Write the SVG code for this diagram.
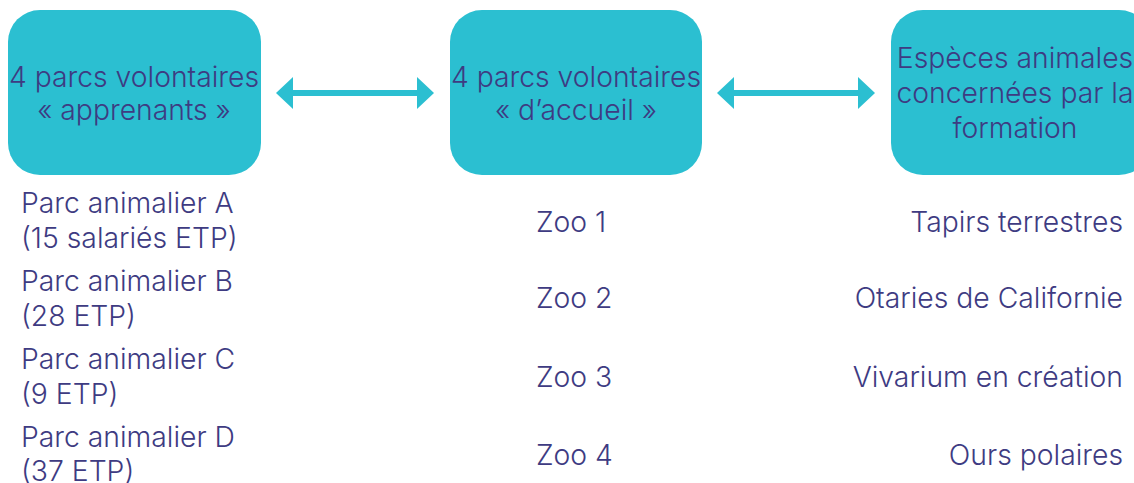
<svg xmlns="http://www.w3.org/2000/svg" width="1134" height="483" viewBox="0 0 1134 483">
  <style>
    .box { fill: #2bbfd1; }
    .t { font-family: Inter, "Liberation Sans", Arial, sans-serif; font-weight: 300; font-size: 28.3px; fill: #3e3b82; }
    .mid { text-anchor: middle; }
    .end { text-anchor: end; }
    .shaft { stroke: #2bbfd1; stroke-width: 6; fill: none; }
    .head { fill: #2bbfd1; }
  </style>
  <rect width="1134" height="483" fill="#ffffff"/>

  <!-- header blocks -->
  <g id="node-apprenants">
    <rect class="box" x="8" y="10" width="253" height="165" rx="32" ry="32"/>
    <text class="t mid" x="134" y="87">4 parcs volontaires</text>
    <text class="t mid" x="134" y="120">« apprenants »</text>
  </g>
  <g id="node-accueil">
    <rect class="box" x="450" y="10" width="252" height="165" rx="32" ry="32"/>
    <text class="t mid" x="576" y="87">4 parcs volontaires</text>
    <text class="t mid" x="576" y="120">« d’accueil »</text>
  </g>
  <g id="node-especes">
    <rect class="box" x="891" y="10" width="260" height="165" rx="32" ry="32"/>
    <text class="t mid" x="1015" y="68">Espèces animales</text>
    <text class="t mid" x="1015" y="103">concernées par la</text>
    <text class="t mid" x="1015" y="138">formation</text>
  </g>

  <!-- double-headed links between blocks -->
  <g id="connectors">
    <line class="shaft" x1="290" y1="93" x2="420" y2="93"/>
    <polygon class="head" points="276,93 293,77 293,109"/>
    <polygon class="head" points="434,93 417,77 417,109"/>
    <line class="shaft" x1="731" y1="93" x2="861" y2="93"/>
    <polygon class="head" points="717,93 734,77 734,109"/>
    <polygon class="head" points="875,93 858,77 858,109"/>
  </g>

  <!-- participating parks -->
  <g id="list-parcs">
    <text class="t" x="21" y="213">Parc animalier A</text>
    <text class="t" x="21" y="248">(15 salariés ETP)</text>
    <text class="t" x="21" y="291">Parc animalier B</text>
    <text class="t" x="21" y="326">(28 ETP)</text>
    <text class="t" x="21" y="369">Parc animalier C</text>
    <text class="t" x="21" y="404">(9 ETP)</text>
    <text class="t" x="21" y="447">Parc animalier D</text>
    <text class="t" x="21" y="481">(37 ETP)</text>
  </g>

  <!-- host zoos -->
  <g id="list-zoos">
    <text class="t" x="536" y="232">Zoo 1</text>
    <text class="t" x="536" y="308">Zoo 2</text>
    <text class="t" x="536" y="387">Zoo 3</text>
    <text class="t" x="536" y="465">Zoo 4</text>
  </g>

  <!-- species -->
  <g id="list-especes">
    <text class="t end" x="1123" y="232">Tapirs terrestres</text>
    <text class="t end" x="1123" y="308">Otaries de Californie</text>
    <text class="t end" x="1123" y="387">Vivarium en création</text>
    <text class="t end" x="1123" y="465">Ours polaires</text>
  </g>
</svg>
